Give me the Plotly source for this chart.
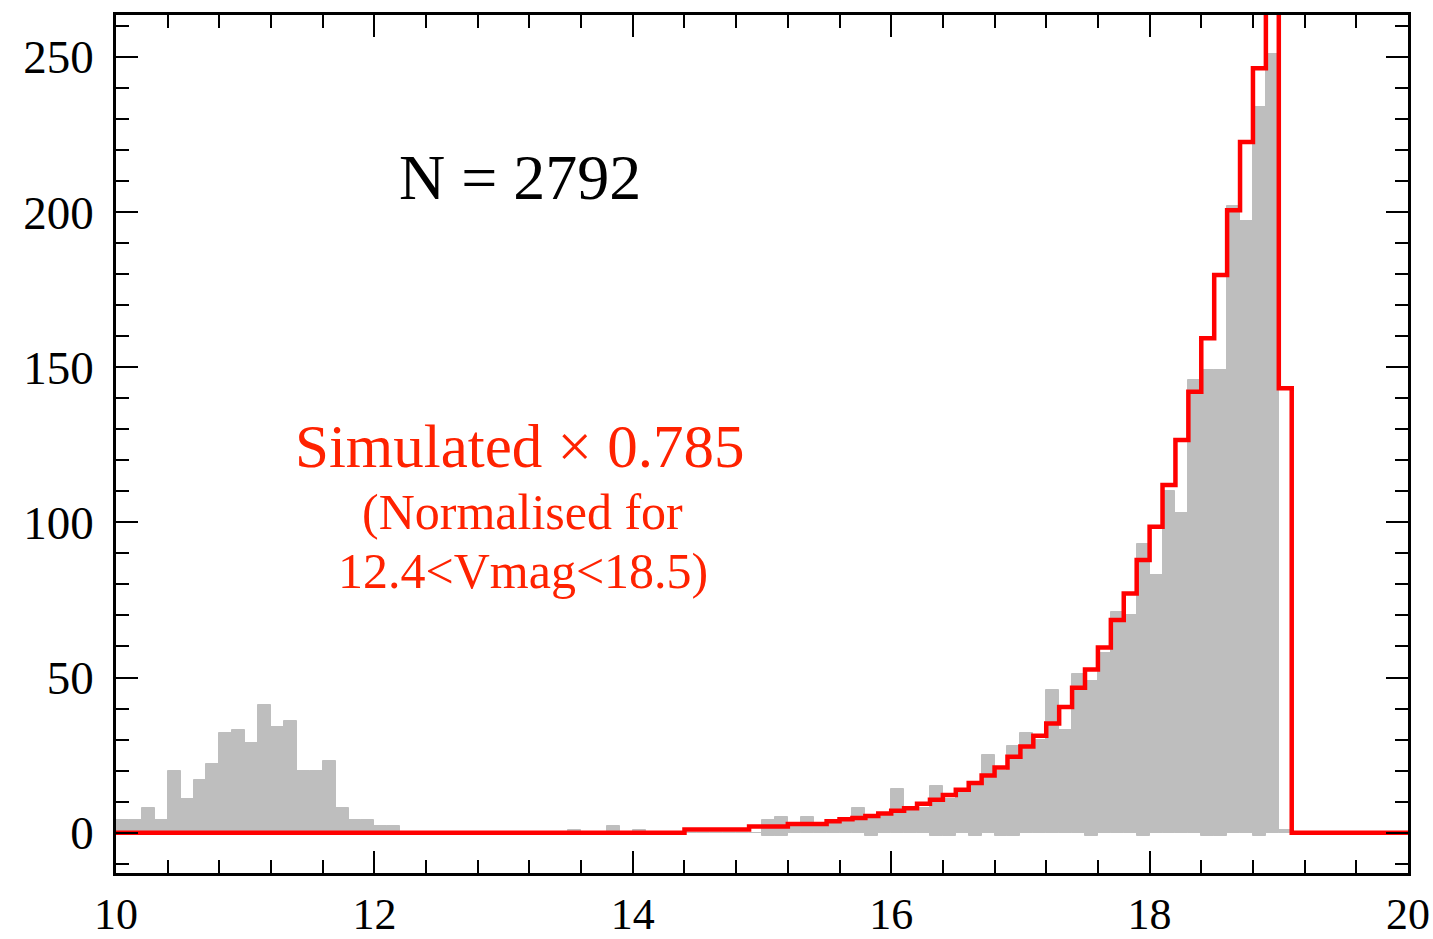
import numpy as np
import plotly.graph_objects as go

# ---- data ----
bin_start = 10.0
bin_width = 0.1

# observed counts (grey), bins 10.0 ... 19.0
grey_counts = [
    4, 4, 8, 4, 20, 11, 17, 22, 32, 33,          # 10.0-10.9
    29, 41, 34, 36, 20, 20, 23, 8, 4, 4,          # 11.0-11.9
    2, 2, 0, 0, 0, 0, 0, 0, 0, 0,                 # 12.0-12.9
    0, 0, 0, 0, 0, 1, 0, 0, 2, 0,                 # 13.0-13.9
    1, 0, 0, 0, 0, 0, 0, 0, 0, 0,                 # 14.0-14.9
    4, 5, 2, 5, 3, 3, 4, 8, 5, 6,                 # 15.0-15.9
    14, 7, 8, 15, 11, 13, 15, 25, 20, 28,         # 16.0-16.9
    32, 30, 46, 33, 51, 49, 58, 71, 70, 93,       # 17.0-17.9
    83, 110, 103, 146, 149, 149, 202, 197, 234, 251,  # 18.0-18.9
    1,                                            # 19.0
]

# small negative residuals visible just below the zero line
below_zero_bins = [15.0, 15.1, 15.8, 16.3, 16.4, 16.6, 16.8, 16.9, 17.5, 17.9, 18.4, 18.5, 18.8]
below_zero_vals = [-1, -1, -1, -1, -1, -1, -1, -1, -1, -1, -1, -1, -1]

# simulated counts x 0.785 (red step line), bins 10.0 ... 19.9
red_values = [
    0, 0, 0, 0, 0, 0, 0, 0, 0, 0,                         # 10.0-10.9
    0, 0, 0, 0, 0, 0, 0, 0, 0, 0,                         # 11.0-11.9
    0, 0, 0, 0, 0, 0, 0, 0, 0, 0,                         # 12.0-12.9
    0, 0, 0, 0, 0, 0, 0, 0, 0, 0,                         # 13.0-13.9
    0, 0, 0, 0, 1, 1, 1, 1, 1, 2,                         # 14.0-14.9
    2, 2, 2.8, 2.8, 2.8, 3.7, 4.3, 4.7, 5.4, 6.2,         # 15.0-15.9
    7.1, 7.9, 9.3, 10.6, 12.1, 13.8, 16.0, 18.4, 21.0, 24.5,   # 16.0-16.9
    27.8, 31.2, 35.2, 40.5, 46.7, 52.6, 59.7, 68.5, 77.1, 87.9,  # 17.0-17.9
    98.6, 112.0, 126.5, 142.1, 159.3, 179.7, 200.6, 222.6, 246.3, 278.0,  # 18.0-18.9
    143.2, 0, 0, 0, 0, 0, 0, 0, 0, 0,                     # 19.0-19.9
]

x_range = [10, 20]
y_range = [-13, 263.5]
x_tickvals = [10, 12, 14, 16, 18, 20]
y_tickvals = [0, 50, 100, 150, 200, 250]

label_n = "N = 2792"
label_sim = "Simulated × 0.785"
label_norm1 = "(Normalised for"
label_norm2 = "12.4<Vmag<18.5)"

# ---- build figure ----
grey_centers = bin_start + bin_width * (np.arange(len(grey_counts)) + 0.5)
below_centers = np.array(below_zero_bins) + bin_width / 2
red_edges = bin_start + bin_width * np.arange(len(red_values) + 1)
red_y = list(red_values) + [red_values[-1]]

GREY = "#bebebe"
RED = "#ff0000"
TXT_RED = "#ff2200"
FONT = "Liberation Serif, Times New Roman, serif"

fig = go.Figure()
fig.add_trace(go.Bar(
    x=grey_centers, y=grey_counts, width=bin_width,
    marker=dict(color=GREY, line=dict(color=GREY, width=1)),
    showlegend=False, hoverinfo="skip",
))
fig.add_trace(go.Bar(
    x=below_centers, y=below_zero_vals, width=bin_width,
    marker=dict(color=GREY, line=dict(color=GREY, width=1)),
    showlegend=False, hoverinfo="skip",
))
fig.add_trace(go.Scatter(
    x=red_edges, y=red_y, mode="lines", line_shape="hv",
    line=dict(color=RED, width=4.5),
    showlegend=False, hoverinfo="skip",
))

axis_common = dict(
    showline=True, linecolor="black", linewidth=2.5, mirror="ticks",
    ticks="inside", tickcolor="black", tickwidth=2, ticklen=22,
    showgrid=False, zeroline=False, automargin=False,
)

fig.update_xaxes(
    range=x_range, tickvals=x_tickvals, ticklabelstandoff=0,
    tickfont=dict(family=FONT, size=44, color="black"),
    minor=dict(dtick=0.4, tick0=10, ticks="inside", ticklen=13, tickwidth=1.5, tickcolor="black", showgrid=False),
    **axis_common,
)
fig.update_yaxes(
    range=y_range, tickvals=y_tickvals, ticklabelstandoff=10,
    tickfont=dict(family=FONT, size=47, color="black"),
    minor=dict(dtick=10, tick0=0, ticks="inside", ticklen=13, tickwidth=1.5, tickcolor="black", showgrid=False),
    **axis_common,
)

fig.add_annotation(x=13.13, y=211, text=label_n, showarrow=False,
                   font=dict(family=FONT, size=64, color="black"))
fig.add_annotation(x=13.13, y=124.6, text=label_sim, showarrow=False,
                   font=dict(family=FONT, size=61, color=TXT_RED))
fig.add_annotation(x=13.15, y=103.4, text=label_norm1, showarrow=False,
                   font=dict(family=FONT, size=50, color=TXT_RED))
fig.add_annotation(x=13.15, y=84.3, text=label_norm2, showarrow=False,
                   font=dict(family=FONT, size=50, color=TXT_RED))

fig.update_layout(
    width=1433, height=939,
    margin=dict(l=116, r=25, t=15, b=66),
    plot_bgcolor="white", paper_bgcolor="white",
    barmode="overlay", bargap=0,
    showlegend=False,
)

fig.write_html("out.html")
